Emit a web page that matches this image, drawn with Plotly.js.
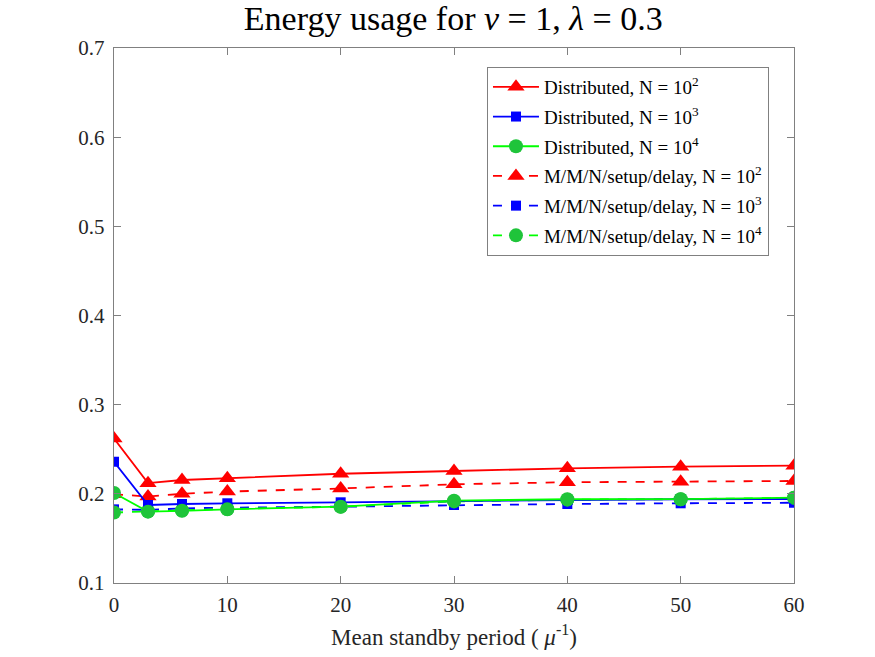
<!DOCTYPE html>
<html><head><meta charset="utf-8">
<script src="https://cdn.plot.ly/plotly-3.0.1.min.js"></script>
<style>body{margin:0;background:#fff}#plot{width:875px;height:657px}</style>
</head><body><div id="plot"></div>
<script>
const xVals = [0, 3, 6, 10, 20, 30, 40, 50, 60];
const distN2 = [0.262, 0.212, 0.2155, 0.2175, 0.2225, 0.2256, 0.2286, 0.2305, 0.2316];
const distN3 = [0.236, 0.1875, 0.1886, 0.1894, 0.1905, 0.192, 0.193, 0.1939, 0.1942];
const distN4 = [0.201, 0.180, 0.181, 0.1826, 0.1856, 0.1923, 0.1939, 0.194, 0.1957];
const mmnN2 = [0.1995, 0.197, 0.200, 0.2025, 0.206, 0.2107, 0.213, 0.2136, 0.2144];
const mmnN3 = [0.1826, 0.182, 0.1837, 0.1845, 0.1856, 0.1875, 0.1886, 0.1894, 0.190];
const mmnN4 = [0.179, 0.1805, 0.1815, 0.183, 0.1855, 0.1915, 0.1935, 0.194, 0.1955];
const yTickVals = [0.1, 0.2, 0.3, 0.4, 0.5, 0.6, 0.7];
const yTickText = ['0.1', '0.2', '0.3', '0.4', '0.5', '0.6', '0.7'];
const xTickVals = [0, 10, 20, 30, 40, 50, 60];
const names = [
  "Distributed, N = 10<sup>2</sup>",
  "Distributed, N = 10<sup>3</sup>",
  "Distributed, N = 10<sup>4</sup>",
  "M/M/N/setup/delay, N = 10<sup>2</sup>",
  "M/M/N/setup/delay, N = 10<sup>3</sup>",
  "M/M/N/setup/delay, N = 10<sup>4</sup>"
];
const series = [distN2, distN3, distN4, mmnN2, mmnN3, mmnN4];
const colors = ['#ff0000', '#0000ff', '#00ff00', '#ff0000', '#0000ff', '#00ff00'];
const markerColors = ['#ff0000', '#0000ff', '#1fc43a', '#ff0000', '#0000ff', '#1fc43a'];
const symbols = ['triangle-up', 'square', 'circle', 'triangle-up', 'square', 'circle'];
const sizes = [15, 10, 14, 15, 10, 14];
const dashes = ['solid', 'solid', 'solid', 'dash', 'dash', 'dash'];

const order = [3,4,5,0,1,2];
const traces = order.map(i => ({
  x: xVals, y: series[i], name: names[i], type: 'scatter', mode: 'lines+markers',
  line: {color: colors[i], width: 1.8, dash: dashes[i]},
  marker: {symbol: symbols[i], size: sizes[i], color: markerColors[i], line: {width: 0}},
  legendrank: i + 1, legendgroup: 'g' + i
}));

const serif = 'Liberation Serif';
const axisCommon = {
  showgrid: false, zeroline: false, showline: true, mirror: 'ticks',
  linecolor: '#808080', linewidth: 1.2, ticks: 'inside', ticklen: 7, tickcolor: '#808080',
  tickfont: {family: serif, size: 21, color: '#262626'}
};

const layout = {
  width: 875, height: 657,
  margin: {l: 114, r: 81, t: 48, b: 74},
  paper_bgcolor: '#ffffff', plot_bgcolor: '#ffffff',
  font: {family: serif, color: '#262626'},
  title: {text: 'Energy usage for <i>ν</i> = 1, <i>λ</i> = 0.3', x: 0.518, xanchor: 'center', y: 0.99, yanchor: 'top',
    font: {family: serif, size: 34, color: '#000'}},
  xaxis: Object.assign({}, axisCommon, {range: [0, 60], tickvals: xTickVals,
    ticklabelstandoff: 3,
    title: {text: 'Mean standby period ( <i>μ</i><sup>-1</sup>)', standoff: 12,
      font: {family: serif, size: 23, color: '#262626'}}}),
  yaxis: Object.assign({}, axisCommon, {range: [0.1, 0.7], tickvals: yTickVals,
    ticktext: yTickText.map(t => t + '\u2009')}),
  legend: {x: 0.5485, y: 0.9645, xanchor: 'left', yanchor: 'top', bgcolor: '#fff',
    bordercolor: '#808080', borderwidth: 1, traceorder: 'grouped', tracegroupgap: 2,
    font: {family: serif, size: 19, color: '#000'}, itemwidth: 46},
  showlegend: true
};

Plotly.newPlot('plot', traces, layout, {displayModeBar: false, staticPlot: true});
</script></body></html>
